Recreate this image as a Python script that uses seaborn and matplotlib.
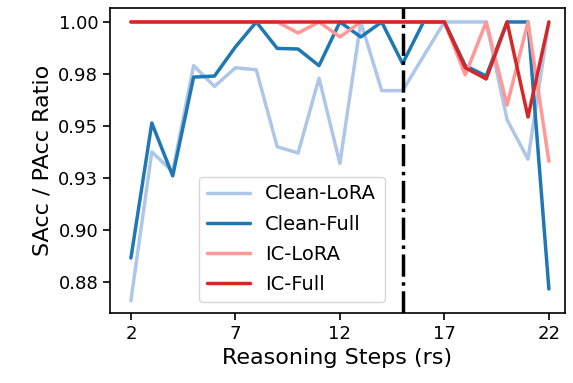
import numpy as np
import pandas as pd
import seaborn as sns
import matplotlib
matplotlib.use("Agg")
import matplotlib.pyplot as plt
from matplotlib.ticker import FormatStrFormatter

steps = list(range(2, 23))
clean_lora = [0.866, 0.9375, 0.928, 0.979, 0.969, 0.978, 0.977, 0.940, 0.937, 0.973, 0.932,
              1.0, 0.967, 0.967, 0.9835, 1.0, 1.0, 1.0, 0.953, 0.934, 1.0]
clean_full = [0.8865, 0.9514, 0.926, 0.9735, 0.974, 0.988, 1.0, 0.9873, 0.987, 0.979, 1.0,
              0.9928, 1.0, 0.980, 1.0, 1.0, 0.979, 0.974, 1.0, 1.0, 0.8716]
ic_lora = [1.0, 1.0, 1.0, 1.0, 1.0, 1.0, 1.0, 1.0, 0.9947, 1.0, 0.9928,
           1.0, 1.0, 1.0, 1.0, 1.0, 0.9745, 1.0, 0.960, 1.0, 0.933]
ic_full = [1.0, 1.0, 1.0, 1.0, 1.0, 1.0, 1.0, 1.0, 1.0, 1.0, 1.0,
           1.0, 1.0, 1.0, 1.0, 1.0, 0.978, 0.9726, 1.0, 0.9543, 1.0]

names = ["Clean-LoRA", "Clean-Full", "IC-LoRA", "IC-Full"]
colors = ["#aec7e8", "#1f77b4", "#ff9896", "#d62728"]
split_step = 15

df = pd.DataFrame({
    "step": steps * 4,
    "ratio": clean_lora + clean_full + ic_lora + ic_full,
    "model": sum([[n] * len(steps) for n in names], []),
})

sns.set_style("ticks")
plt.rcParams["font.family"] = ["DejaVu Sans"]
plt.rcParams.update({"text.color": "black", "axes.labelcolor": "black",
                     "xtick.color": "black", "ytick.color": "black"})

fig = plt.figure(figsize=(5.73, 3.83), dpi=100)
ax = fig.add_axes([0.192, 0.183, 0.794, 0.796])

sns.lineplot(data=df, x="step", y="ratio", hue="model", hue_order=names,
             palette=colors, linewidth=2.5, ax=ax)
ax.axvline(split_step, color="black", linestyle="-.", linewidth=2.5)

ax.set_xlim(1, 22.77)
ax.set_ylim(0.8601, 1.0067)
ax.set_xticks([2, 7, 12, 17, 22])
ax.set_yticks(np.arange(0.875, 1.001, 0.025))
ax.yaxis.set_major_formatter(FormatStrFormatter("%.2f"))
ax.tick_params(labelsize=13, width=1.2, length=5)
for s in ax.spines.values():
    s.set_color("black")
    s.set_linewidth(1.2)

ax.set_xlabel("Reasoning Steps (rs)", fontsize=16)
ax.set_ylabel("SAcc / PAcc Ratio", fontsize=16)

ax.legend(loc="lower left", bbox_to_anchor=(0.196, 0.036, 0.409, 0.4),
          mode="expand", borderaxespad=0, fontsize=14, handlelength=2.2,
          labelspacing=0.58, title=None)

plt.savefig("out.png", dpi=100)
